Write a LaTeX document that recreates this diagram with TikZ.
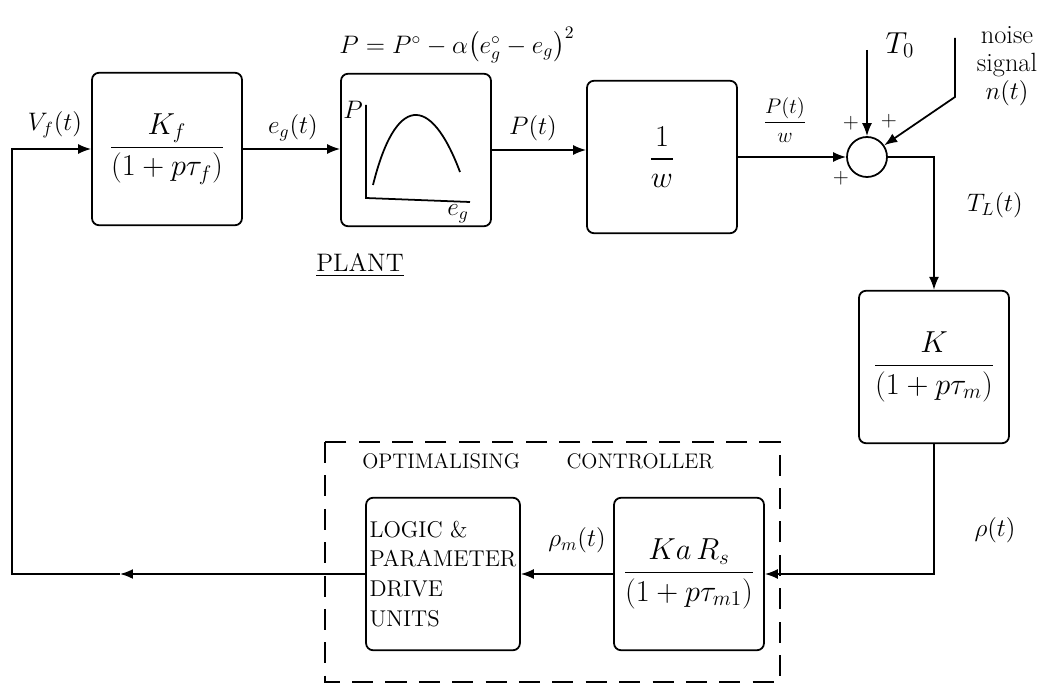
\documentclass[tikz,border=0pt]{standalone}
\usepackage{amsmath}
\usepackage{tikz}
\usetikzlibrary{arrows.meta}
\tikzset{>={Latex[length=2.6mm,width=2mm]}}

\begin{document}
\begin{tikzpicture}[x=0.02cm,y=-0.02cm,line width=1pt]
  \tikzstyle{block}=[draw,rounded corners=4pt,minimum width=3cm,minimum height=3.05cm,inner sep=2pt]
  \tikzstyle{sig}=[font=\Large,inner sep=1pt]
  \tikzstyle{plus}=[font=\large,inner sep=0pt]
  \useasboundingbox (0,0) rectangle (1059,689);
  % plant
  \node[block](kf) at (167,149){\LARGE $\dfrac{K_f}{(1+p\tau_f)}$};
  \node[block](plant) at (416,150){};
  \node[block](inv) at (662,157){\LARGE $\dfrac{1}{w}$};
  \node[draw,circle,minimum size=0.8cm,inner sep=0pt](sum) at (867,157){};
  \node[block](kbox) at (934,367){\LARGE $\dfrac{K}{(1+p\tau_m)}$};
  \node[sig](formula) at (457,45){$P=P^{\circ}-\alpha\bigl(e_g^{\circ}-e_g\bigr)^2$};
  \node[sig](plantlbl) at (360,265){\underline{PLANT}};
  % curve inside the plant block
  \draw (366,105) -- (366,198) -- (470,202);
  \draw (373,185) .. controls (395,96) and (430,92) .. (460,172);
  \node[sig](paxis) at (353,110){$P$};
  \node[sig](egaxis) at (458,214){$e_g$};
  % controller
  \draw[dash pattern=on 12pt off 7pt] (325,442) rectangle (780,682);
  \node[font=\large](ctrl) at (538,461){OPTIMALISING\hspace{2.2em}CONTROLLER};
  \node[block,align=left,font=\fontsize{13}{15}\selectfont](logic) at (443,574){LOGIC \&\\[2pt]PARAMETER\\[2pt]DRIVE\\[2pt]UNITS};
  \node[block](kars) at (689,574){\LARGE $\dfrac{Ka\,R_s}{(1+p\tau_{m1})}$};
  % inputs to the summing point
  \coordinate (t0top) at (867,50);
  \coordinate (nstop) at (955,38);
  \coordinate (nsknee) at (955,97);
  \node[font=\LARGE](t0) at (900,45){$T_0$};
  \node[align=center,font=\fontsize{15}{16}\selectfont](noise) at (1007,66){noise\\signal\\$n(t)$};
  \node[plus](p1) at (851,123){$+$};
  \node[plus](p2) at (889,121){$+$};
  \node[plus](p3) at (841,178){$+$};
  % connectors
  \coordinate (fbmid) at (120,574);
  \coordinate (fbcorner) at (12,574);
  \draw[->] (kf.east) -- (kf.east -| plant.west);
  \draw[->] (plant.east) -- (plant.east -| inv.west);
  \draw[->] (inv.east) -- (sum.west);
  \draw[->] (t0top) -- (sum.north);
  \draw[->] (nstop) -- (nsknee) -- (sum);
  \draw[->] (sum.east) -| (kbox.north);
  \draw[->] (kbox.south) |- (kars.east);
  \draw[->] (kars.west) -- (logic.east);
  \draw[->] (logic.west) -- (fbmid);
  \draw[->] (fbmid) -- (fbcorner) |- (kf.west);
  % signal labels
  \node[sig](vf) at (55,125){$V_f(t)$};
  \node[sig](eg) at (293,128){$e_g(t)$};
  \node[sig](pt) at (533,128){$P(t)$};
  \node[font=\large](ptw) at (785,120){$\dfrac{P(t)}{w}$};
  \node[sig](tl) at (995,205){$T_L(t)$};
  \node[sig](rho) at (995,530){$\rho(t)$};
  \node[sig](rhom) at (577,540){$\rho_m(t)$};
\end{tikzpicture}
\end{document}
